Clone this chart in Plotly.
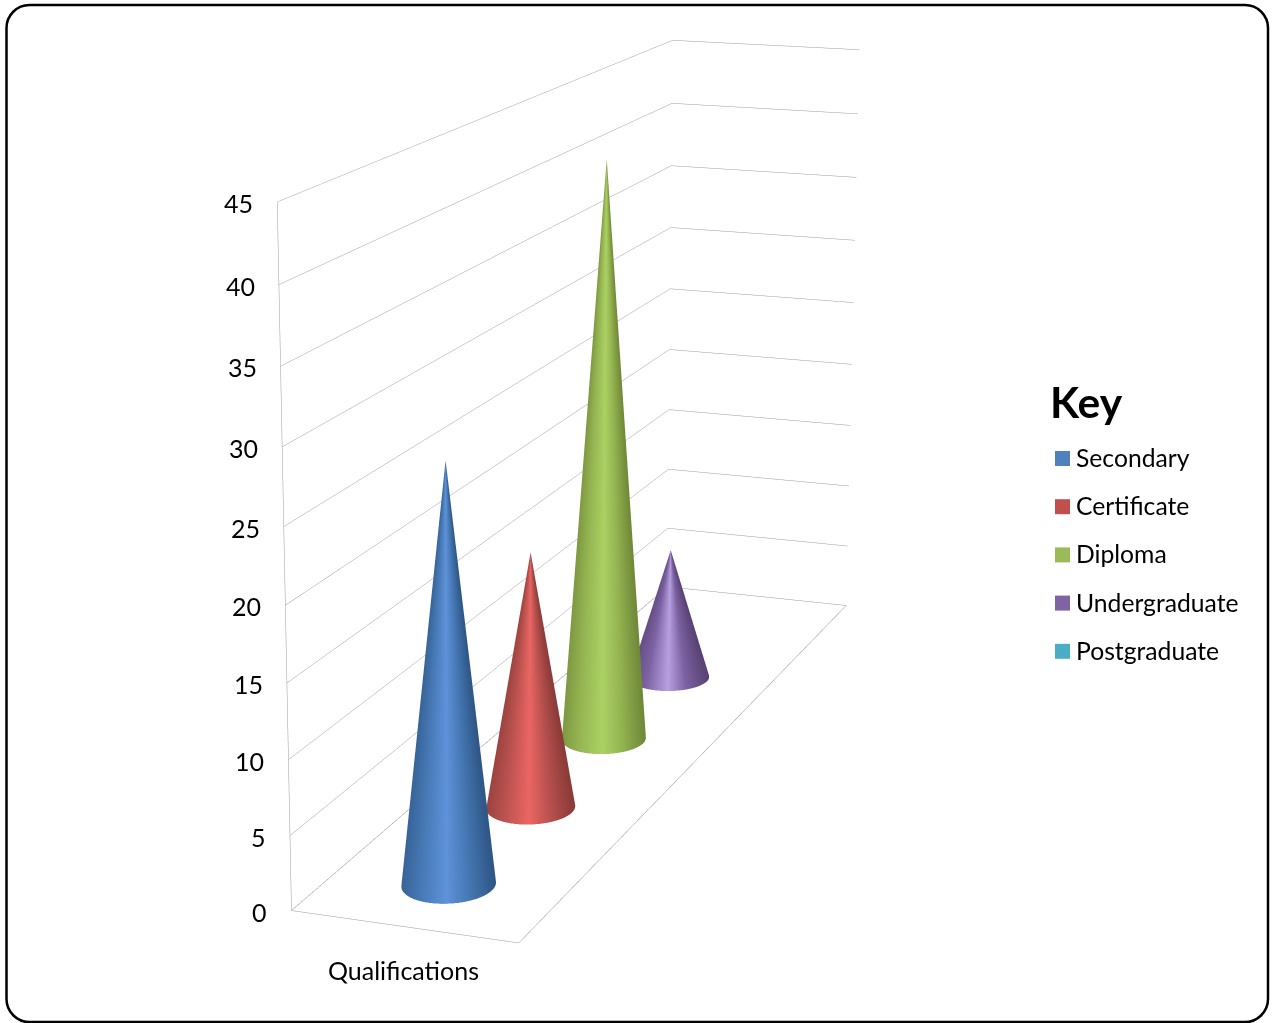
import numpy as np
import plotly.graph_objects as go

# Chart data
category = "Qualifications"
series_names = ["Secondary", "Certificate", "Diploma", "Undergraduate", "Postgraduate"]
series_values = [28, 18, 42, 10, 0]
z_ticks = [0, 5, 10, 15, 20, 25, 30, 35, 40, 45]

# Styling
legend_colors = ["#4F81BD", "#C0504D", "#9BBB59", "#8064A2", "#4BACC6"]
cone_shades = [
    ["#2e5686", "#4779b5", "#5e92da"],
    ["#8a3b39", "#bb524f", "#ea6664"],
    ["#708838", "#95b552", "#abd163"],
    ["#584374", "#7c62a2", "#b7a0e0"],
    ["#2f7f93", "#4bacc6", "#6fd0ea"],
]
FONT = "Lato"
GRID = "#9c9c9c"
BASE_RX = 0.195      # cone base radius, in x-axis units
BASE_RY = 0.223      # cone base radius, in series slots

# Page geometry: the scene is taller than the page so the lens stays long,
# and the whole plot is slid upward by PAGE_SHIFT pixels.
FIG_W, FIG_H = 1275, 2882
PAGE_SHIFT = 955
SCENE_W = 1123

ASPECT = dict(x=1.0, y=4.9335, z=2.9562)
EYE = dict(x=5.1012, y=-14.6623, z=3.9354)
CENTER = dict(x=0.1954, y=-1.1308, z=0.0594)
UP = dict(x=-0.0773, y=0.2087, z=1.0)

X_RANGE = [0, 1]
Y_RANGE = [0, len(series_names)]
Z_RANGE = [z_ticks[0], z_ticks[-1]]


def px(x):
    return x / FIG_W


def py(y):
    return 1 - (y + PAGE_SHIFT) / FIG_H


def cone_trace(slot, value, shades):
    """A cone of the given height standing in one series slot."""
    cx, cy = 0.5, slot + 0.5
    theta = np.linspace(0, 2 * np.pi, 361)
    levels = np.array([0.0, 0.5, 1.0])
    th, lv = np.meshgrid(theta, levels)
    xs = cx + BASE_RX * (1 - lv) * np.cos(th)
    ys = cy + BASE_RY * (1 - lv) * np.sin(th)
    zs = value * lv
    # brightest along the side facing the viewer, falling off across the
    # visible width; the left flank keeps a little more light than the right
    vx = EYE["x"] - (cx - 0.5) * ASPECT["x"]
    vy = EYE["y"] - (cy / Y_RANGE[1] - 0.5) * ASPECT["y"]
    d = th - np.arctan2(vy, vx)
    s = np.sin(d)
    shade = 1 - np.abs(s) + 0.2 * np.clip(-s, 0, 1)
    shade = np.where(np.cos(d) > 0, shade, 0.0)
    return go.Surface(
        x=xs, y=ys, z=zs, surfacecolor=shade, cmin=0, cmax=1,
        colorscale=[[0, shades[0]], [0.55, shades[1]], [1, shades[2]]],
        showscale=False, hoverinfo="skip",
        lighting=dict(ambient=1, diffuse=0, specular=0, roughness=1, fresnel=0),
        name=series_names[slot],
    )


fig = go.Figure()

for i, value in enumerate(series_values):
    if value > 0:
        fig.add_trace(cone_trace(i, value, cone_shades[i]))

# Floor outline and the front-left vertical edge
x0, x1 = X_RANGE
y0, y1 = Y_RANGE
z0, z1 = Z_RANGE
fig.add_trace(go.Scatter3d(
    x=[x0, x0, x0, x1, x1, x0],
    y=[y0, y0, y1, y1, y0, y0],
    z=[z1, z0, z0, z0, z0, z0],
    mode="lines", line=dict(color=GRID, width=1),
    hoverinfo="skip", showlegend=False,
))

hidden_axis = dict(
    showgrid=False, zeroline=False, showline=False, showticklabels=False,
    showbackground=False, showspikes=False, ticks="", title="",
)

scene_notes = [
    dict(x=x0, y=y0, z=t, text=str(t), showarrow=False, xanchor="right",
         xshift=-22, yshift=-1,
         font=dict(family=FONT, size=25, color="#000000"))
    for t in z_ticks
]
scene_notes.append(dict(
    x=0.5, y=y0, z=z0, text=category, showarrow=False, yshift=-43,
    font=dict(family=FONT, size=25, color="#000000"),
))

# Legend rows
legend_shapes, legend_notes = [], []
for i, name in enumerate(series_names):
    yc = 458.5 + i * 48.2
    legend_shapes.append(dict(
        type="rect", xref="paper", yref="paper",
        x0=px(1055), x1=px(1070), y0=py(yc + 7.5), y1=py(yc - 7.5),
        fillcolor=legend_colors[i], line=dict(width=0),
    ))
    legend_notes.append(dict(
        xref="paper", yref="paper", x=px(1074), y=py(yc - 1), text=name,
        xanchor="left", yanchor="middle", showarrow=False,
        font=dict(family=FONT, size=24.7, color="#000000"),
    ))
legend_notes.append(dict(
    xref="paper", yref="paper", x=px(1048), y=py(401), text="<b>Key</b>",
    xanchor="left", yanchor="middle", showarrow=False,
    font=dict(family=FONT, size=42.5, color="#000000"),
))

# Rounded card outline
L, R, T, B, C = 6.5, 1268, 5, 1022, 23
K = C * 0.45
corner_path = (
    f"M {px(L + C)} {py(T)} L {px(R - C)} {py(T)} "
    f"C {px(R - K)} {py(T)} {px(R)} {py(T + K)} {px(R)} {py(T + C)} "
    f"L {px(R)} {py(B - C)} "
    f"C {px(R)} {py(B - K)} {px(R - K)} {py(B)} {px(R - C)} {py(B)} "
    f"L {px(L + C)} {py(B)} "
    f"C {px(L + K)} {py(B)} {px(L)} {py(B - K)} {px(L)} {py(B - C)} "
    f"L {px(L)} {py(T + C)} "
    f"C {px(L)} {py(T + K)} {px(L + K)} {py(T)} {px(L + C)} {py(T)} Z"
)
frame = dict(type="path", xref="paper", yref="paper", path=corner_path,
             line=dict(color="#000000", width=2.5), fillcolor="rgba(0,0,0,0)")

fig.update_layout(
    width=FIG_W, height=FIG_H, autosize=False,
    margin=dict(l=0, r=0, t=0, b=0),
    paper_bgcolor="#ffffff", showlegend=False, hovermode=False,
    shapes=[frame] + legend_shapes,
    annotations=legend_notes,
    scene=dict(
        domain=dict(x=[0, SCENE_W / FIG_W], y=[0, 1]),
        aspectmode="manual", aspectratio=ASPECT,
        camera=dict(eye=EYE, center=CENTER, up=UP, projection=dict(type="perspective")),
        xaxis=dict(hidden_axis, range=X_RANGE),
        yaxis=dict(hidden_axis, range=Y_RANGE),
        zaxis=dict(hidden_axis, range=Z_RANGE, showgrid=True, gridcolor=GRID, gridwidth=1,
                   tickmode="array", tickvals=z_ticks),
        annotations=scene_notes,
        bgcolor="rgba(0,0,0,0)",
        dragmode=False,
    ),
)

page_shift = (
    "var gd=document.getElementById('{plot_id}');"
    f"gd.style.marginTop='-{PAGE_SHIFT}px';"
    "document.documentElement.style.overflow='hidden';"
    "document.body.style.overflow='hidden';"
)
fig.write_html("out.html", post_script=page_shift, config=dict(displayModeBar=False))
